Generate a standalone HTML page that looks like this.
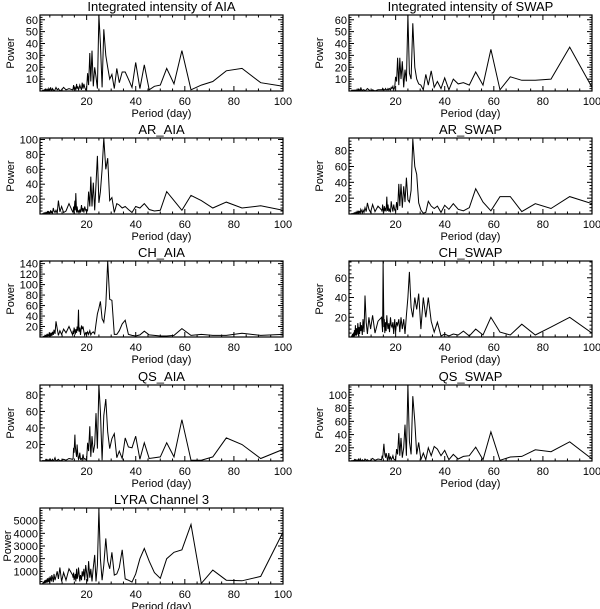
<!DOCTYPE html>
<html><head><meta charset="utf-8">
<style>
html,body{margin:0;padding:0;background:#fff;}
svg{display:block;font-family:"Liberation Sans",sans-serif;}
</style></head>
<body>
<svg id="fig" width="600" height="609" viewBox="0 0 600 609"></svg>
<script>
// shared periods (days) for the main part of each periodogram
const periodsMain = [100,90.9,83.3,76.9,71.4,66.7,62.5,58.8,55.6,52.6,50,47.6,45.5,43.5,41.7,40,38.5,37.0,35.7,34.5,33.3,32.3,31.25,30.3,29.4,28.6,27.8,27.0,26.3,25.6,25,24.4,23.8,23.3,22.7,22.2,21.7,21.3,20.8,20.4,20,19.6,19.2,18.9,18.5,18.2,17.9,17.5,17.2,16.9,16.7,16.4,16.1,15.9,15.6,15.4,15.2,14.9,14.7,14.5,14.3];
const periodsNoise = [12.8,11.6,10.6,9.8,9.1,8.5,8.0,7.5,7.1,6.7,6.4,6.1,5.8,5.6,5.3,5.1,4.9,4.8,4.6,4.4,4.3,4.2,4.0,3.9,3.8,3.7,3.6,3.5,3.4,3.3,3.2,3.1,3.05,2.98,2.91,2.84,2.78,2.72,2.66,2.6,2.55,2.5,2.45,2.4,2.36,2.31,2.27,2.23,2.19,2.15,2.12,2.08,2.02];

const intAiaMain = [4,7,19,17,8,5,1,34,6,19,5,4,1,22,2,24,3,10,16,16,7,19,2,14,10,20,30,52,3,40,64,2,12,20,4,34,8,32,5,15,2,1,3,6,2,7,1,3,5,2,1,4,2,6,1,2,3,1,5,2,1];
const intAiaNoise = [2,1,3,1,0,2,1,3,1,0,1,2,0,1,3,1,0,1,2,0,1,1,0,2,1,0,1,1,0,1,2,0,1,0,1,1,0,1,0,1,0,1,0,1,0,1,0,1,0,1,0,1,0];
const intSwapMain = [3,37,10,9,9,12,1,35,5,16,5,7,6,10,1,11,2,8,3,17,5,14,1,5,6,10,20,57,10,15,64,8,18,3,25,10,28,5,28,8,12,3,1,4,2,3,1,2,1,2,1,1,1,2,1,1,1,1,2,1,1];
const intSwapNoise = [1,0,1,0,1,2,1,0,1,1,0,1,3,0,1,1,0,1,0,1,0,1,0,1,0,1,0,1,0,1,0,1,0,1,0,1,0,1,0,1,0,1,0,1,0,1,0,1,0,1,0,1,0];
const arAiaMain = [5,11,8,16,8,18,25,5,18,30,5,4,6,14,8,10,2,6,10,8,12,14,2,22,18,75,60,102,60,30,15,78,40,5,42,10,50,10,30,5,3,5,10,2,8,3,12,2,6,1,4,3,10,2,28,5,18,3,10,2,3];
const arAiaNoise = [14,4,2,10,3,18,1,5,2,4,8,1,3,2,5,1,3,0,2,4,1,2,3,1,0,2,1,3,1,0,2,1,1,0,2,1,0,1,2,0,1,1,0,1,0,1,0,1,0,1,0,1,0];
const arSwapMain = [13,22,7,13,3,22,22,4,15,32,8,4,6,13,6,11,2,10,7,10,16,2,1,5,14,50,60,95,30,15,18,46,15,35,8,38,10,38,5,15,3,5,12,3,9,16,2,6,3,12,4,22,3,8,4,10,2,6,12,3,5];
const arSwapNoise = [10,3,12,2,6,14,3,8,2,5,1,4,6,1,3,2,4,1,2,3,0,2,1,3,1,0,2,1,1,0,2,1,0,1,1,0,1,0,1,0,1,0,1,0,1,0,1,0,1,0,1,0,0];
const chAiaMain = [5,3,7,3,3,5,3,16,3,2,2,3,4,11,4,2,3,5,32,25,12,5,5,70,72,145,60,28,35,68,55,44,25,6,10,8,4,12,5,10,5,8,3,10,20,15,22,4,18,10,52,12,20,8,15,5,10,18,6,12,4];
const chAiaNoise = [20,8,15,5,12,3,16,30,6,14,4,10,2,8,3,6,1,9,2,5,3,1,4,2,6,0,3,1,2,4,0,1,3,0,2,1,0,2,1,0,1,0,2,0,1,0,1,0,1,0,1,0,0];
const chSwapMain = [4,20,10,2,13,2,5,20,2,8,1,6,2,3,1,3,1,15,5,16,40,20,40,8,44,28,40,20,30,66,40,22,3,18,8,20,5,18,12,15,5,18,3,15,10,12,20,5,14,8,12,22,6,15,4,18,10,77,5,12,20];
const chSwapNoise = [16,4,22,8,20,3,15,42,5,18,2,12,6,15,3,10,1,8,14,3,6,2,9,1,5,3,12,2,4,1,7,0,3,5,1,2,0,4,1,0,2,1,0,3,0,1,0,2,0,1,0,1,0];
const qsAiaMain = [14,3,20,28,5,1,1,50,5,22,5,4,3,22,2,30,16,17,28,3,12,4,33,27,15,35,75,55,1,60,92,15,58,20,10,30,5,42,12,22,1,2,3,2,8,1,3,2,10,3,2,8,20,5,12,18,32,10,16,3,2];
const qsAiaNoise = [3,1,2,1,0,2,1,0,4,1,0,2,1,0,1,3,0,1,0,1,0,1,0,1,0,1,0,1,0,1,0,1,0,1,0,1,0,1,0,1,0,1,0,1,0,1,0,1,0,1,0,1,0];
const qsSwapMain = [3,29,14,17,7,6,1,44,2,21,8,7,3,10,2,16,8,18,22,8,20,2,12,2,28,10,60,98,10,30,115,8,55,20,5,35,8,42,10,18,2,2,3,8,4,2,6,3,12,2,1,8,12,5,10,18,26,12,4,8,2];
const qsSwapNoise = [3,1,4,1,0,2,1,3,0,1,2,0,1,3,0,1,0,2,0,1,0,1,0,1,0,1,0,1,0,1,0,1,0,1,0,1,0,1,0,1,0,1,0,1,0,1,0,1,0,1,0,1,0];
const lyraMain = [4100,600,250,300,1100,50,4700,2700,2500,2000,450,900,1800,2800,2000,800,150,300,400,2700,1300,800,700,2500,1200,1800,3600,1500,300,2000,5900,1500,200,2300,1300,200,1200,500,1800,200,900,1500,300,1200,600,1000,300,700,200,900,1300,600,400,1200,200,800,600,300,900,500,700];
const lyraNoise = [1200,300,900,200,1300,400,1000,600,300,800,150,500,700,200,400,600,100,300,500,150,350,200,450,100,300,250,150,350,100,250,200,80,300,150,100,250,60,200,150,80,200,100,60,150,80,120,50,100,80,60,90,40,70];

const titles = ["Integrated intensity of AIA","Integrated intensity of SWAP","AR_AIA","AR_SWAP","CH_AIA","CH_SWAP","QS_AIA","QS_SWAP","LYRA Channel 3"];
const yMaxes = [64,64,102,96,145,77,92,115,6000];
const yTickSets = [[10,20,30,40,50,60],[10,20,30,40,50,60],[20,40,60,80,100],[20,40,60,80],[20,40,60,80,100,120,140],[20,40,60],[20,40,60,80],[20,40,60,80,100],[1000,2000,3000,4000,5000]];
const xTicks = [20,40,60,80,100];
const mains = [intAiaMain,intSwapMain,arAiaMain,arSwapMain,chAiaMain,chSwapMain,qsAiaMain,qsSwapMain,lyraMain];
const noises = [intAiaNoise,intSwapNoise,arAiaNoise,arSwapNoise,chAiaNoise,chSwapNoise,qsAiaNoise,qsSwapNoise,lyraNoise];
const slugs = ["int-aia","int-swap","ar-aia","ar-swap","ch-aia","ch-swap","qs-aia","qs-swap","lyra"];

const NS = "http://www.w3.org/2000/svg";
const svg = document.getElementById("fig");
const colX = [40,349], rowY = [15,138,261,385,508], W = 243, H = 76, xMin = 1, xMax = 100;

function mk(tag, attrs, parent){
  const e = document.createElementNS(NS, tag);
  for (const k in attrs) e.setAttribute(k, attrs[k]);
  parent.appendChild(e);
  return e;
}

for (let p = 0; p < 9; p++) {
  const x0 = colX[p % 2], y0 = rowY[Math.floor(p / 2)];
  const sx = v => x0 + (v - xMin) / (xMax - xMin) * W;
  const sy = v => y0 + H - v / yMaxes[p] * H;
  const g = mk("g", {}, svg);
  
  

  const t = mk("text", {x: x0 + W / 2, y: y0 - 4, "text-anchor": "middle", "font-size": "13"}, g);
  t.textContent = titles[p];
  
  

  const clip = mk("clipPath", {id: "c" + p}, g);
  mk("rect", {x: x0, y: y0, width: W, height: H}, clip);

  const per = periodsMain.concat(periodsNoise);
  const pow = mains[p].concat(noises[p]);
  let d = "";
  for (let i = 0; i < per.length; i++) d += (i ? "L" : "M") + sx(per[i]).toFixed(1) + "," + sy(pow[i]).toFixed(1);
  const line = mk("path", {d: d, fill: "none", stroke: "#000", "stroke-width": "1", "clip-path": "url(#c" + p + ")"}, g);
  
  

  const frame = mk("rect", {x: x0, y: y0, width: W, height: H, fill: "none", stroke: "#000", "stroke-width": "1.2"}, g);
  
  

  for (let v = 5; v <= 100; v += 5) {
    const xx = sx(v), L = (v % 20 === 0) ? 5 : 2.5;
    mk("line", {x1: xx, x2: xx, y1: y0 + H, y2: y0 + H - L, stroke: "#000"}, g);
    mk("line", {x1: xx, x2: xx, y1: y0, y2: y0 + L, stroke: "#000"}, g);
  }
  xTicks.forEach(v => {
    const tl = mk("text", {x: sx(v), y: y0 + H + 14, "text-anchor": "middle", "font-size": "11"}, g);
    tl.textContent = v;
    
    
  });
  const xl = mk("text", {x: x0 + W / 2, y: y0 + H + 26, "text-anchor": "middle", "font-size": "11"}, g);
  xl.textContent = "Period (day)";
  
  

  const yt = yTickSets[p];
  const step = yt[1] - yt[0];
  for (let v = step / 5; v < yMaxes[p]; v += step / 5) {
    const yy = sy(v), major = Math.abs(v / step - Math.round(v / step)) < 1e-6, L = major ? 5 : 2.5;
    mk("line", {x1: x0, x2: x0 + L, y1: yy, y2: yy, stroke: "#000"}, g);
    mk("line", {x1: x0 + W, x2: x0 + W - L, y1: yy, y2: yy, stroke: "#000"}, g);
  }
  yt.forEach(v => {
    const tl = mk("text", {x: x0 - 2, y: sy(v) + 4, "text-anchor": "end", "font-size": "11"}, g);
    tl.textContent = v;
    
    
  });
  const yxTitle = x0 - (p === 8 ? 29 : 26);
  const yl = mk("text", {x: yxTitle, y: y0 + H / 2, "text-anchor": "middle", "font-size": "11", transform: "rotate(-90 " + yxTitle + " " + (y0 + H / 2) + ")"}, g);
  yl.textContent = "Power";
  
  
}
</script>
</body></html>
